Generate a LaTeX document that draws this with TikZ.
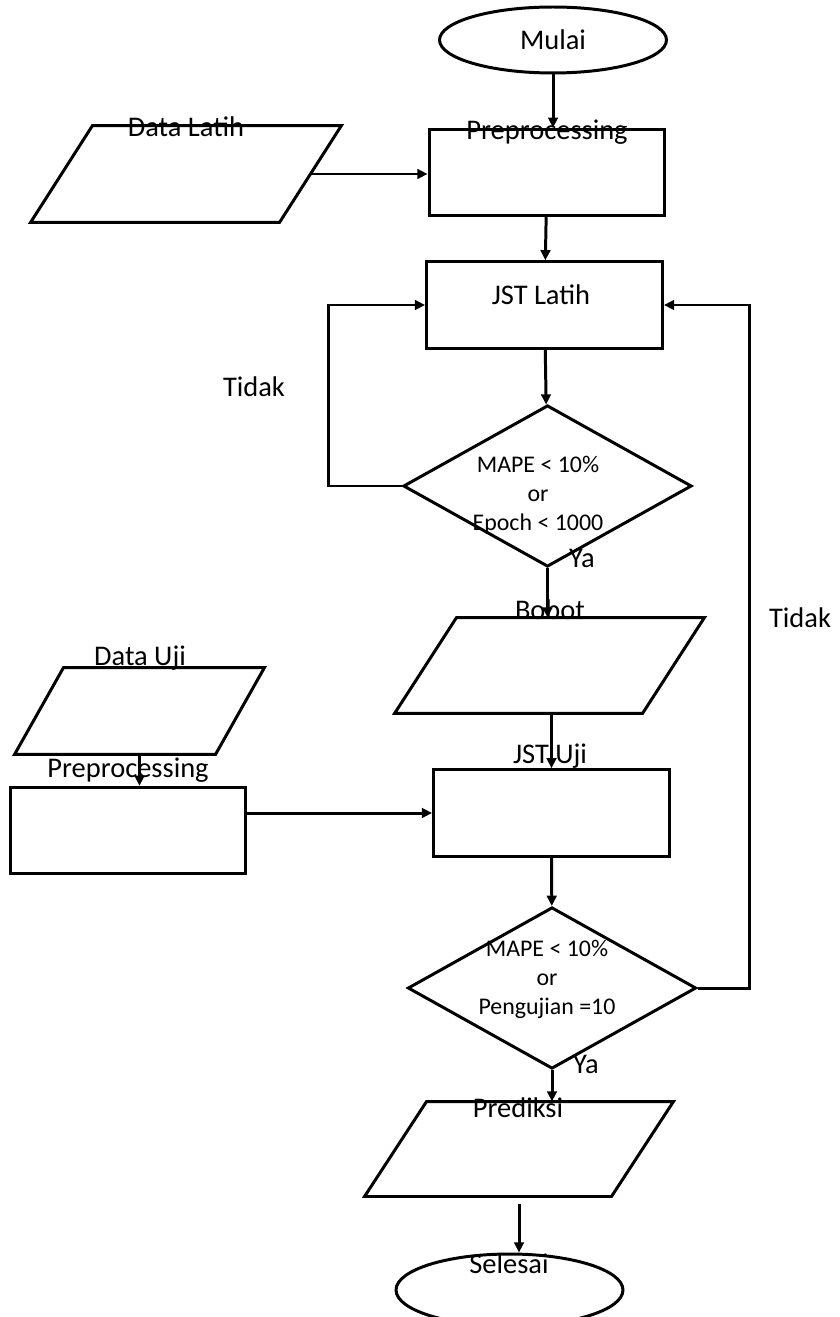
\documentclass[tikz,border=0pt]{standalone}
\usepackage{fontspec}
\setmainfont{Carlito}
\usetikzlibrary{
    arrows.meta,
    shapes.geometric
}
\tikzset{
    every picture/.style = {
        > = {Triangle[length = 5.8pt, width = 5.5pt]},
        line width = 1.7pt,
        x = 0.02cm,
        y = -0.02cm
    },
    terminal/.style = {
        draw,
        ellipse,
        inner sep = 0pt,
        minimum width = 4.54cm,
        font = \fontsize{16.2}{19}\selectfont
    },
    process/.style = {
        draw,
        rectangle,
        minimum width = 4.72cm,
        minimum height = 1.73cm
    },
    io/.style = {
        rectangle,
        inner sep = 0pt,
        minimum width = 6.14cm,
        minimum height = 1.86cm,
        append after command = {
            \pgfextra{
                \draw ([xshift = #1]\tikzlastnode.north west) -- (\tikzlastnode.north east)
                    -- ([xshift = -#1]\tikzlastnode.south east) -- (\tikzlastnode.south west) -- cycle;
            }
        }
    },
    io/.default = 1.24cm,
    decision/.style = {
        draw,
        diamond,
        inner sep = 0pt,
        minimum width = 5.77cm,
        minimum height = 3.23cm
    },
    lbl/.style = {
        inner sep = 0pt,
        anchor = base,
        font = \fontsize{16.2}{19}\selectfont
    },
    cond/.style = {
        inner sep = 0pt,
        align = center,
        font = \fontsize{13.6}{16.5}\selectfont
    }
}

\begin{document}
\begin{tikzpicture}
    \useasboundingbox (0, 0) rectangle (839, 1317);
    \node[terminal, minimum height = 1.32cm] (mulai) at (553, 40) {Mulai};
    \node[process] (prep) at (547, 172.5) {};
    \node[io, minimum width = 6.16cm, minimum height = 1.88cm] (datalatih) at (186, 174) {};
    \node[process] (jstlatih) at (544.5, 305) {};
    \node[decision] (cek1) at (547.5, 486) {};
    \node[io] (bobot) at (549.5, 665.5) {};
    \node[io = 0.98cm, minimum width = 4.94cm, minimum height = 1.68cm] (datauji) at (139.5, 711) {};
    \node[process] (prep2) at (128, 830.5) {};
    \node[process] (jstuji) at (551.5, 813) {};
    \node[decision] (cek2) at (552, 988) {};
    \node[io, minimum width = 6.12cm, minimum height = 1.84cm] (prediksi) at (519, 1149) {};
    \node[terminal, minimum height = 1.44cm] (selesai) at (509.5, 1290) {};

    \node[lbl] (tdatalatih) at (186, 137) {Data Latih};
    \node[lbl] (tprep) at (547, 140) {Preprocessing};
    \node[lbl] (tjstlatih) at (541, 305) {JST Latih};
    \node[lbl] (ttidak1) at (254, 397) {Tidak};
    \node[lbl] (tya1) at (582, 567) {Ya};
    \node[lbl] (tbobot) at (550, 619) {Bobot};
    \node[lbl] (ttidak2) at (800, 627) {Tidak};
    \node[lbl] (tdatauji) at (140, 665) {Data Uji};
    \node[lbl] (tprep2) at (128, 777) {Preprocessing};
    \node[lbl] (tjstuji) at (550, 763) {JST Uji};
    \node[lbl] (tya2) at (586, 1073) {Ya};
    \node[lbl] (tprediksi) at (518, 1117) {Prediksi};
    \node[lbl] (tselesai) at (509, 1273) {Selesai};
    \node[cond] (tcek1) at (538, 495) {MAPE < 10\%\\or\\Epoch < 1000};
    \node[cond] (tcek2) at (547, 979) {MAPE < 10\%\\or\\Pengujian =10};

    \path[->] (mulai.south) edge (mulai.south |- prep.north);
    \path[->] ([xshift = -0.62cm]datalatih.east) edge (datalatih.east -| prep.west);
    \path[->] (prep) edge (jstlatih);
    \path[->] (jstlatih) edge (cek1);
    \draw[->] (cek1.west) -- ++(-73, 0) |- (jstlatih.west);
    \path[->] (cek1.south) edge (cek1.south |- bobot.north);
    \path[->] (jstuji.north |- bobot.south) edge (jstuji.north);
    \path[->] (datauji.south) edge (datauji.south |- prep2.north);
    \path[->] (jstuji.west -| prep2.east) edge (jstuji.west);
    \path[->] (jstuji) edge (cek2);
    \draw[->] (cek2.east) -- ++(52, 0) |- (jstlatih.east);
    \path[->] (cek2.south) edge (cek2.south |- prediksi.north);
    \path[->, shorten <= 4pt] (prediksi.south) edge (prediksi.south |- selesai.north);
\end{tikzpicture}
\end{document}
